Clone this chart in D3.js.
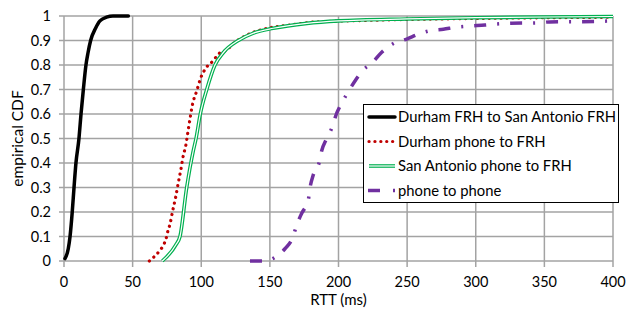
<!DOCTYPE html>
<html>
<head>
<meta charset="utf-8">
<script src="https://cdn.jsdelivr.net/npm/d3@7"></script>
<style>
  body { margin: 0; background: #fff; }
  text { font-family: Lato, "Liberation Sans", sans-serif; fill: #000; }
</style>
</head>
<body>
<svg id="chart" width="634" height="310"></svg>
<script>
//  RTT in ms, empirical CDF values
const durhamFrhRtt = [0.7, 3.1, 4.4, 6, 7.3, 8.7, 10.9, 12.4, 14.1, 16, 17.5, 19.4, 23, 26.2, 31, 35.7, 46.9];
const durhamFrhCdf = [0.01, 0.05, 0.1, 0.2, 0.3, 0.4, 0.5, 0.6, 0.7, 0.8, 0.85, 0.9, 0.95, 0.98, 0.995, 1, 1];

const durhamPhoneRtt = [62.2, 65.8, 69.4, 72.4, 74.3, 75.5, 77.2, 79.2, 81.4, 83.3, 85.2, 86.9, 88.7, 90.1, 91.8, 93.5, 96.7, 99.8, 103.2, 108.8, 112.4, 119.3, 122.6, 127, 131.9, 137.9, 150, 164.7, 184, 220, 250, 300, 350, 400];
const durhamPhoneCdf = [0, 0.018, 0.04, 0.064, 0.09, 0.118, 0.15, 0.205, 0.262, 0.32, 0.375, 0.43, 0.47, 0.52, 0.58, 0.636, 0.694, 0.75, 0.786, 0.818, 0.844, 0.864, 0.884, 0.902, 0.918, 0.933, 0.952, 0.963, 0.976, 0.982, 0.986, 0.99, 0.993, 0.995];

const sanAntonioPhoneRtt = [71.6, 81.4, 84.5, 89.4, 94.2, 96.2, 99.3, 104, 110, 116, 127, 138, 152.5, 177, 200, 250, 300, 350, 400];
const sanAntonioPhoneCdf = [0, 0.065, 0.1, 0.3, 0.45, 0.5, 0.6, 0.7, 0.8, 0.85, 0.9, 0.93, 0.95, 0.97, 0.98, 0.988, 0.993, 0.996, 0.998];

const phoneToPhoneRtt = [135.5, 145, 150, 153.7, 161, 166.6, 169.5, 173.2, 178, 179.2, 181.6, 185.8, 187.7, 191.4, 195.5, 198.2, 202.3, 207.9, 212.5, 218, 224.2, 231.5, 240, 249.7, 257.7, 266.7, 276.4, 285.6, 295.8, 306.7, 314, 323.5, 344.4, 354, 363.6, 376, 400];
const phoneToPhoneCdf = [0, 0, 0.005, 0.015, 0.05, 0.095, 0.146, 0.195, 0.249, 0.297, 0.351, 0.4, 0.449, 0.5, 0.548, 0.596, 0.644, 0.698, 0.739, 0.78, 0.807, 0.852, 0.888, 0.906, 0.925, 0.94, 0.946, 0.954, 0.959, 0.963, 0.967, 0.97, 0.972, 0.976, 0.977, 0.977, 0.98];

const seriesNames = ["Durham FRH to San Antonio FRH", "Durham phone to FRH", "San Antonio phone to FRH", "phone to phone"];

const xTicks = [0, 50, 100, 150, 200, 250, 300, 350, 400];
const yTicks = [0, 0.1, 0.2, 0.3, 0.4, 0.5, 0.6, 0.7, 0.8, 0.9, 1];
const yTickLabels = ["0", "0.1", "0.2", "0.3", "0.4", "0.5", "0.6", "0.7", "0.8", "0.9", "1"];

const svg = d3.select("#chart");
const plot = { left: 64, right: 613, top: 16, bottom: 261 };
const gridColor = "#a3a3a3";

const x = d3.scaleLinear().domain([0, 400]).range([plot.left, plot.right]);
const y = d3.scaleLinear().domain([0, 1]).range([plot.bottom, plot.top]);

//  grid lines (they run past the axes a little, as tick marks)
svg.append("g").selectAll("line").data(yTicks).join("line")
    .attr("x1", plot.left - 5).attr("x2", plot.right)
    .attr("y1", d => y(d)).attr("y2", d => y(d))
    .attr("stroke", gridColor).attr("stroke-width", 1.5);
svg.append("g").selectAll("line").data(xTicks).join("line")
    .attr("x1", d => x(d)).attr("x2", d => x(d))
    .attr("y1", plot.top).attr("y2", plot.bottom + 6)
    .attr("stroke", gridColor).attr("stroke-width", 1.5);

//  tick labels
svg.append("g").selectAll("text").data(yTicks).join("text")
    .attr("x", 51).attr("y", d => y(d)).attr("dy", "0.36em")
    .attr("text-anchor", "end").style("font-size", "14.5px")
    .text((d, i) => yTickLabels[i]);
svg.append("g").selectAll("text").data(xTicks).join("text")
    .attr("x", d => x(d)).attr("y", 287)
    .attr("text-anchor", "middle").style("font-size", "14.5px")
    .text(d => d);

//  axis titles
svg.append("text").attr("x", (plot.left + plot.right) / 2).attr("y", 305)
    .attr("text-anchor", "middle").style("font-size", "15px").text("RTT (ms)");
svg.append("text").attr("transform", `translate(23,${(plot.top + plot.bottom) / 2}) rotate(-90)`)
    .attr("text-anchor", "middle").style("font-size", "15.5px").text("empirical CDF");

//  series
const line = d3.line().x(d => x(d[0])).y(d => y(d[1])).curve(d3.curveMonotoneX);
const zipped = (xs, ys) => xs.map((v, i) => [v, ys[i]]);

const series = [
    { data: zipped(durhamFrhRtt, durhamFrhCdf), stroke: "#000000", width: 3.5, dash: null, cap: "round" },
    { data: zipped(durhamPhoneRtt, durhamPhoneCdf), stroke: "#c00000", width: 3.2, dash: "0.1,5.8", cap: "round" },
    { data: zipped(sanAntonioPhoneRtt, sanAntonioPhoneCdf), stroke: "#00b050", width: 3.6, dash: null, cap: "butt", inner: true },
    { data: zipped(phoneToPhoneRtt, phoneToPhoneCdf), stroke: "#7030a0", width: 3.5, dash: "12,11,2,11", cap: "butt" }
];

const lines = svg.append("g");
series.forEach(s => {
    lines.append("path").attr("d", line(s.data))
        .attr("fill", "none").attr("stroke", s.stroke).attr("stroke-width", s.width)
        .attr("stroke-dasharray", s.dash).attr("stroke-linecap", s.cap).attr("stroke-linejoin", "round");
    if (s.inner) {     //  the double line look: white core
        lines.append("path").attr("d", line(s.data))
            .attr("fill", "none").attr("stroke", "#ffffff").attr("stroke-width", 1.2);
    }
});

//  legend
const legend = svg.append("g");
legend.append("rect").attr("x", 363.5).attr("y", 104.5).attr("width", 255).attr("height", 98)
    .attr("fill", "#ffffff").attr("stroke", "#000000").attr("stroke-width", 1);
const rowY = [117, 141.5, 166, 190.5];
series.forEach((s, i) => {
    const ly = rowY[i];
    if (i === 3) {
        legend.append("line").attr("x1", 368).attr("x2", 380).attr("y1", ly).attr("y2", ly)
            .attr("stroke", s.stroke).attr("stroke-width", s.width);
        legend.append("line").attr("x1", 393).attr("x2", 395).attr("y1", ly).attr("y2", ly)
            .attr("stroke", s.stroke).attr("stroke-width", s.width);
    } else {
        legend.append("line").attr("x1", 369).attr("x2", 395).attr("y1", ly).attr("y2", ly)
            .attr("stroke", s.stroke).attr("stroke-width", s.width)
            .attr("stroke-dasharray", s.dash).attr("stroke-linecap", s.cap);
        if (s.inner) {
            legend.append("line").attr("x1", 369).attr("x2", 395).attr("y1", ly).attr("y2", ly)
                .attr("stroke", "#ffffff").attr("stroke-width", 1.2);
        }
    }
    legend.append("text").attr("x", 398).attr("y", ly).attr("dy", "0.35em")
        .style("font-size", "14.8px").text(seriesNames[i]);
});
</script>
</body>
</html>
